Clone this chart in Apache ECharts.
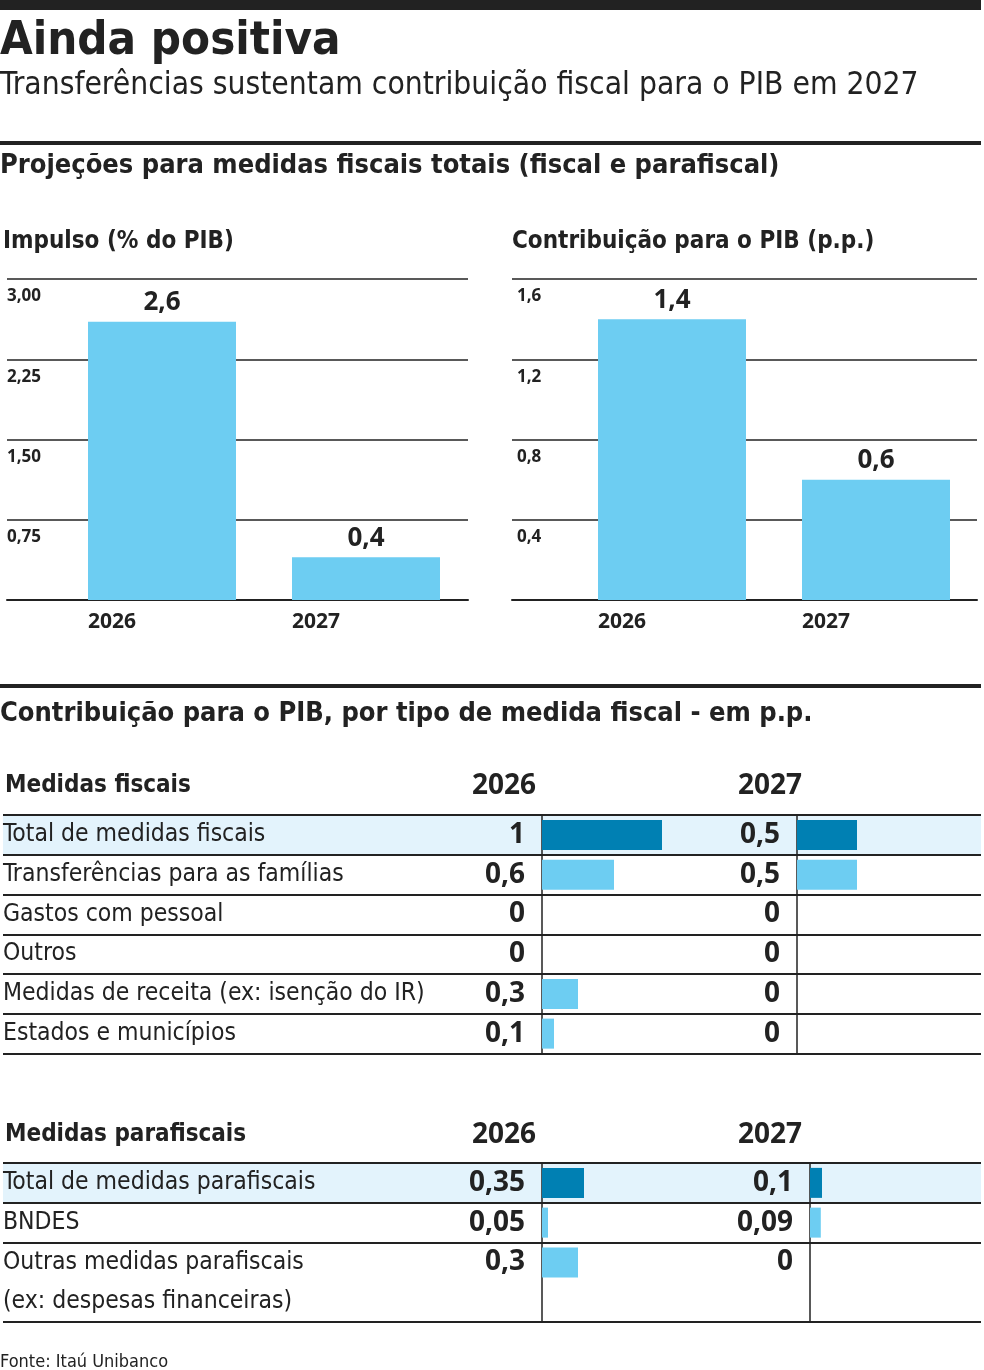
<!DOCTYPE html>
<html>
<head>
	<title>Ainda positiva</title>
	<meta charset="utf-8">
	<script src="https://cdn.jsdelivr.net/npm/echarts@6/dist/echarts.min.js"></script>
	<style type="text/css">
		body{ margin:0; background:#fff; }
		#main{ width:984px; height:1370px; }
	</style>
</head>
<body>
	<div id="main"></div>
	<script type="text/javascript">
		// dados
		var anos = ['2026', '2027'];
		var impulso = [2.6, 0.4];
		var impulsoTicks = [0, 0.75, 1.5, 2.25, 3];
		var contribuicao = [1.4, 0.6];
		var contribTicks = [0, 0.4, 0.8, 1.2, 1.6];

		var fiscaisLinhas = ['Total de medidas fiscais', 'Transferências para as famílias', 'Gastos com pessoal', 'Outros', 'Medidas de receita (ex: isenção do IR)', 'Estados e municípios'];
		var fiscais2026 = [1, 0.6, 0, 0, 0.3, 0.1];
		var fiscais2027 = [0.5, 0.5, 0, 0, 0, 0];

		var parafiscaisLinhas = ['Total de medidas parafiscais', 'BNDES', 'Outras medidas parafiscais', '(ex: despesas financeiras)'];
		var parafiscais2026 = [0.35, 0.05, 0.3, null];
		var parafiscais2027 = [0.1, 0.09, 0, null];

		var narrow = "'DejaVu Sans Condensed', 'Liberation Sans Narrow', sans-serif";
		var human = "'Open Sans', 'Noto Sans', sans-serif";
		var ink = '#222';
		var azul = '#6dcdf2';
		var azulEscuro = '#0080b3';
		var fundo = '#e3f3fc';

		var virgula = function(v){
			return String(v).replace('.', ',');
		};

		var txt = function(x, y, text, font, align){
			return {
				type:'text', x:x, y:y, z:10,
				style:{
					text:text, fill:ink, font:font,
					textAlign:align || 'left', align:align || 'left',
					textVerticalAlign:'middle', verticalAlign:'middle'
				}
			};
		};
		var barra = function(x, y, w, h){
			return {type:'rect', shape:{x:x, y:y, width:w, height:h}, style:{fill:ink}};
		};

		// grafico de barras verticais: moldura + barras
		var grids = [];
		var xAxes = [];
		var yAxes = [];
		var series = [];

		var colunaChart = function(frameLeft, frameWidth, barLeft, values, ticks, casas, labelMargin){
			var fi = grids.length;
			grids.push({left:frameLeft, top:279, width:frameWidth, height:321});
			grids.push({left:barLeft, top:279, width:408, height:321});
			var yMax = ticks[ticks.length - 1];
			var step = ticks[1] - ticks[0];
			xAxes.push({
				gridIndex:fi, type:'value', min:0, max:1,
				axisLine:{show:true, lineStyle:{color:ink, width:2}},
				axisTick:{show:false}, axisLabel:{show:false}, splitLine:{show:false}
			});
			yAxes.push({
				gridIndex:fi, type:'value', min:ticks[0], max:yMax, interval:step,
				axisLine:{show:false}, axisTick:{show:false},
				splitLine:{show:true, lineStyle:{color:ink, width:1.5}},
				axisLabel:{
					inside:true, margin:labelMargin, align:'left', verticalAlign:'top',
					padding:[9, 0, 0, 0],
					fontFamily:human, fontWeight:'bold', fontSize:17, color:ink,
					formatter:function(v){ return v === 0 ? '' : v.toFixed(casas).replace('.', ','); }
				}
			});
			xAxes.push({
				gridIndex:fi + 1, type:'category', data:anos,
				axisLine:{show:false}, axisTick:{show:false},
				axisLabel:{
					margin:12, padding:[0, 100, 0, 0],
					fontFamily:human, fontWeight:'bold', fontSize:21, color:ink
				}
			});
			yAxes.push({gridIndex:fi + 1, type:'value', min:ticks[0], max:yMax, show:false});
			series.push({
				type:'bar', xAxisIndex:xAxes.length - 1, yAxisIndex:yAxes.length - 1,
				data:values, barWidth:148,
				itemStyle:{color:azul},
				label:{
					show:true, position:'top', distance:6,
					fontFamily:human, fontWeight:'bold', fontSize:26, color:ink,
					formatter:function(p){ return virgula(p.value); }
				}
			});
		};

		// tabela: moldura com as linhas + colunas de barras horizontais
		var tabela = function(top, linhas, colunas, semLinha){
			var h = linhas.length * 39.75;
			var fi = grids.length;
			grids.push({left:0, top:top, width:981, height:h});
			xAxes.push({gridIndex:fi, type:'value', min:0, max:1, show:false});
			var cores = [fundo];
			for(var i = 1; i < linhas.length; i++){
				cores.push('rgba(255,255,255,0)');
			}
			yAxes.push({
				gridIndex:fi, type:'category', inverse:true, data:linhas,
				axisLine:{show:false}, axisTick:{show:false},
				axisLabel:{
					inside:true, margin:0, interval:0, align:'left',
					padding:[4, 0, 0, 0],
					fontFamily:narrow, fontSize:24.5, color:ink
				},
				splitLine:{
					show:true,
					interval:function(idx){ return semLinha === undefined || idx !== semLinha; },
					lineStyle:{color:ink, width:2}
				},
				splitArea:{show:true, interval:0, areaStyle:{color:cores}}
			});
			for(var c = 0; c < colunas.length; c++){
				var col = colunas[c];
				var gi = grids.length;
				grids.push({left:col.left, top:top, width:col.max * 120, height:h});
				xAxes.push({gridIndex:gi, type:'value', min:0, max:col.max, show:false});
				yAxes.push({
					gridIndex:gi, type:'category', inverse:true, data:linhas,
					axisLine:{show:true, lineStyle:{color:ink, width:1.5}},
					axisTick:{show:false}, axisLabel:{show:false}, splitLine:{show:false}
				});
				series.push({
					type:'bar', xAxisIndex:xAxes.length - 1, yAxisIndex:yAxes.length - 1,
					data:col.values, barWidth:30,
					itemStyle:{color:function(p){ return p.dataIndex === 0 ? azulEscuro : azul; }},
					label:{
						show:true, position:'left', distance:17,
						fontFamily:human, fontWeight:'bold', fontSize:28, color:ink,
						formatter:function(p){ return virgula(p.value); }
					}
				});
			}
		};

		colunaChart(7, 461, 60, impulso, impulsoTicks, 2, 0);
		colunaChart(512, 465, 570, contribuicao, contribTicks, 1, 5);
		tabela(815, fiscaisLinhas, [
			{left:542, max:2, values:fiscais2026},
			{left:797, max:1.5, values:fiscais2027}
		]);
		tabela(1163, parafiscaisLinhas, [
			{left:542, max:2, values:parafiscais2026},
			{left:810, max:1, values:parafiscais2027}
		], 3);

		var myChart = echarts.init(document.getElementById('main'));
		var option = {
			animation:false,
			backgroundColor:'#fff',
			grid:grids,
			xAxis:xAxes,
			yAxis:yAxes,
			series:series,
			graphic:[
				barra(0, 0, 981, 10),
				txt(0, 42, 'Ainda positiva', 'bold 47px ' + narrow),
				txt(0, 86, 'Transferências sustentam contribuição fiscal para o PIB em 2027', '31.5px ' + narrow),
				barra(0, 141, 981, 4),
				txt(0, 166, 'Projeções para medidas fiscais totais (fiscal e parafiscal)', 'bold 27px ' + narrow),
				txt(3, 242, 'Impulso (% do PIB)', 'bold 24px ' + narrow),
				txt(512, 242, 'Contribuição para o PIB (p.p.)', 'bold 24px ' + narrow),
				barra(0, 684, 981, 4),
				txt(0, 714, 'Contribuição para o PIB, por tipo de medida fiscal - em p.p.', 'bold 27px ' + narrow),
				txt(5, 786, 'Medidas fiscais', 'bold 24px ' + narrow),
				txt(504, 786, '2026', 'bold 28px ' + human, 'center'),
				txt(770, 786, '2027', 'bold 28px ' + human, 'center'),
				txt(5, 1135, 'Medidas parafiscais', 'bold 24px ' + narrow),
				txt(504, 1135, '2026', 'bold 28px ' + human, 'center'),
				txt(770, 1135, '2027', 'bold 28px ' + human, 'center'),
				txt(0, 1362, 'Fonte: Itaú Unibanco', '18px ' + narrow)
			]
		};
		myChart.setOption(option);
	</script>
</body>
</html>
